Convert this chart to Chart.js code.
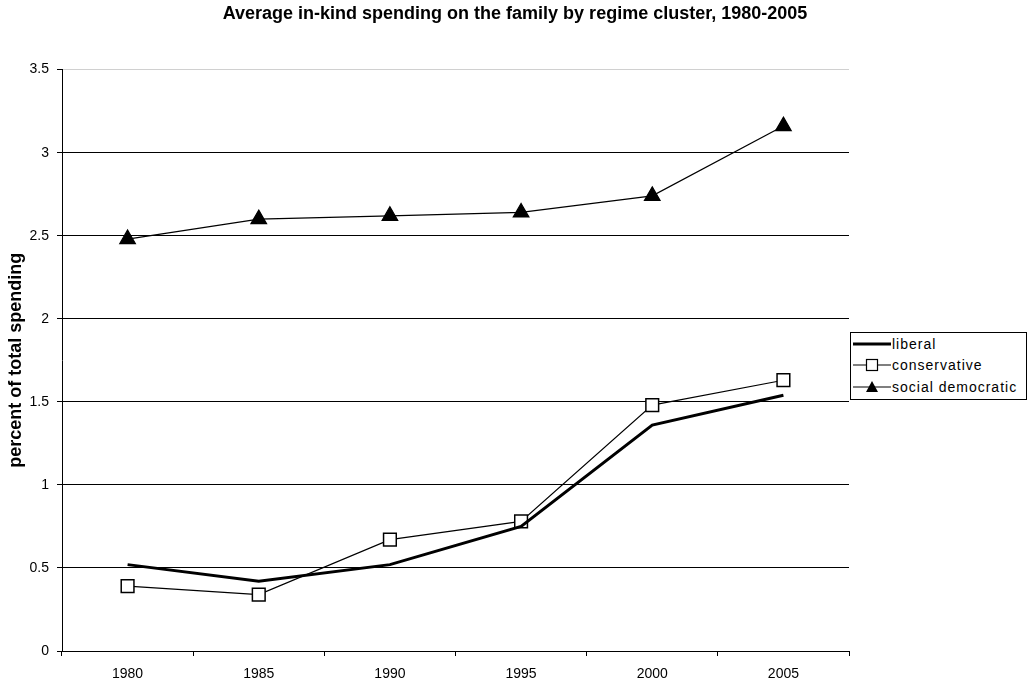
<!DOCTYPE html>
<html>
<head>
<meta charset="utf-8">
<script src="https://cdn.jsdelivr.net/npm/chart.js@4"></script>
<style>
  body { margin: 0; background: #fff; }
  #wrap { position: relative; width: 1030px; height: 686px; }
  #legend {
    position: absolute; left: 850px; top: 332px; width: 173px;
    border: 1px solid #000; background: #fff;
    padding: 0 0 1px 2px;
    font-family: "Liberation Sans", Arial, sans-serif; font-size: 14px; letter-spacing: 1px; color: #000;
  }
  #legend div { display: flex; align-items: center; height: 21.5px; }
  #legend svg { margin-right: 1px; }
</style>
</head>
<body>
<div id="wrap">
  <canvas id="chart" width="1030" height="686"></canvas>
  <div id="legend"></div>
</div>
<script>
// values
const years = ["1980", "1985", "1990", "1995", "2000", "2005"];
const liberal = [0.52, 0.42, 0.52, 0.75, 1.36, 1.54];
const conservative = [0.39, 0.34, 0.67, 0.78, 1.48, 1.63];
const socialDemocratic = [2.48, 2.60, 2.62, 2.64, 2.74, 3.16];
const yTicks = [0, 0.5, 1, 1.5, 2, 2.5, 3, 3.5];

const FONT = "'Liberation Sans', Arial, sans-serif";

const ctx = document.getElementById("chart").getContext("2d");

const chart = new Chart(ctx, {
  type: "line",
  data: {
    labels: years,
    datasets: [
      {
        label: "liberal",
        data: liberal,
        borderColor: "#000",
        borderWidth: 3,
        pointRadius: 0,
        tension: 0,
      },
      {
        label: "conservative",
        data: conservative,
        borderColor: "#000",
        borderWidth: 1.2,
        pointStyle: "rect",
        pointRadius: 9,
        pointBackgroundColor: "#fff",
        pointBorderColor: "#000",
        pointBorderWidth: 1.5,
        tension: 0,
      },
      {
        label: "social democratic",
        data: socialDemocratic,
        borderColor: "#000",
        borderWidth: 1.2,
        pointStyle: "triangle",
        pointRadius: 9,
        pointBackgroundColor: "#000",
        pointBorderColor: "#000",
        tension: 0,
      },
    ],
  },
  options: {
    responsive: false,
    animation: false,
    layout: { padding: 0 },
    plugins: {
      legend: { display: false },
      tooltip: { enabled: false },
      title: {
        display: true,
        text: "Average in-kind spending on the family by regime cluster, 1980-2005",
        color: "#000",
        font: { family: FONT, size: 18, weight: "bold" },
        padding: { top: 3, bottom: 45 },
      },
    },
    scales: {
      x: {
        offset: true,
        grid: {
          offset: true,
          drawOnChartArea: false,
          drawTicks: true,
          tickLength: 5,
          color: "#000",
        },
        border: { color: "#000", width: 1 },
        ticks: {
          color: "#000",
          font: { family: FONT, size: 14 },
          padding: 10,
          maxRotation: 0,
        },
        afterFit: (scale) => { scale.height = 35; },
      },
      y: {
        min: 0,
        max: 3.5,
        afterBuildTicks: (scale) => { scale.ticks = yTicks.map((v) => ({ value: v })); },
        grid: {
          color: (c) => (c.tick && c.tick.value === 3.5 ? "#d0d0d0" : "#000"),
          tickColor: "#000",
          tickLength: 5,
          lineWidth: 1,
        },
        border: { color: "#000", width: 1 },
        ticks: {
          color: "#000",
          font: { family: FONT, size: 14 },
          padding: 8,
          callback: (v) => String(v),
        },
        title: {
          display: true,
          text: "percent of total spending",
          color: "#000",
          font: { family: FONT, size: 18, weight: "bold" },
          padding: { top: 5, bottom: 0 },
        },
        afterFit: (scale) => { scale.width = 62; },
      },
      // empty axis on the right, only reserves room for the legend box
      side: {
        type: "linear",
        position: "right",
        min: 0,
        max: 1,
        grid: { drawOnChartArea: false, drawTicks: false },
        border: { display: false },
        ticks: { display: false },
        afterFit: (scale) => { scale.width = 181; },
      },
    },
  },
});

// legend box drawn as html, icons match the line styles
const legendItems = [
  { label: "liberal", icon: '<line x1="0" y1="7" x2="38" y2="7" stroke="#000" stroke-width="3"/>' },
  { label: "conservative", icon: '<line x1="0" y1="7" x2="38" y2="7" stroke="#000" stroke-width="1.2"/><rect x="13.5" y="1.5" width="11" height="11" fill="#fff" stroke="#000" stroke-width="1.2"/>' },
  { label: "social democratic", icon: '<line x1="0" y1="7" x2="38" y2="7" stroke="#000" stroke-width="1.2"/><polygon points="19,1 25,12 13,12" fill="#000"/>' },
];
document.getElementById("legend").innerHTML = legendItems
  .map((it) => `<div><svg width="38" height="14">${it.icon}</svg>${it.label}</div>`)
  .join("");
</script>
</body>
</html>
